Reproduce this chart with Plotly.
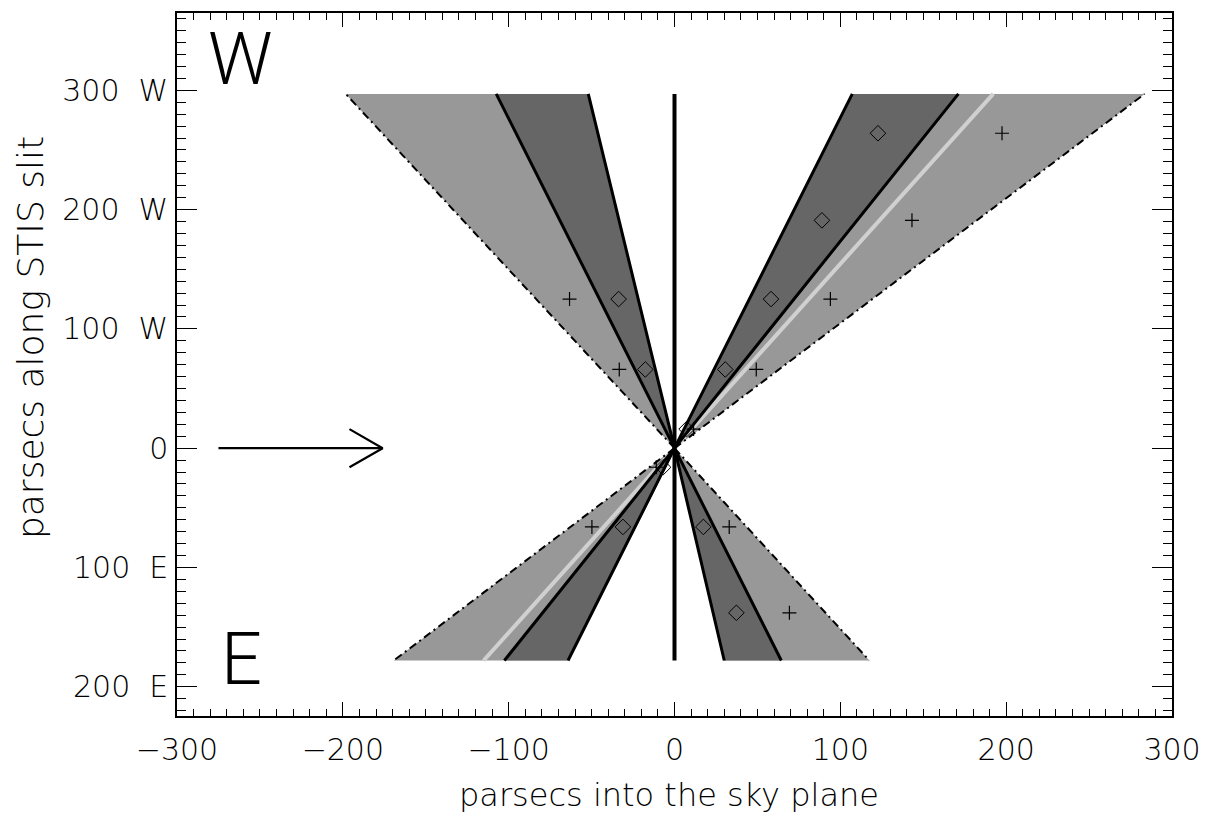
import plotly.graph_objects as go

# ---------------- data ----------------
# cone end heights (pc along slit): W cones end at TOP, E cones at BOTTOM
cone_names = ["W-left", "W-right", "E-left", "E-right"]
cone_end_y = [297, 297, -178, -178]
light_outer_x = [-198.3, 283.5, -169.3, 117.5]
dark_outer_x = [-107.5, 171.2, -102.6, 64.4]
dark_inner_x = [-52.0, 107.2, -64.2, 30.0]

ridge_end_x = [192.2, -115.1]
ridge_end_y = [297, -178]

axis_line_y = [-178, 297]

marker_y = [125, 66, 264, 191, 125, 66, 16, -16, -66, -66, -138]
diamond_x = [-33.7, -17.6, 122.7, 88.9, 58.2, 30.6, 7.3, -6.9, -31.1, 17.4, 37.3]
plus_x = [-63.3, -33.3, 197.5, 143.2, 94.0, 49.3, 11.5, -11.0, -49.8, 33.0, 69.3]

arrow_tail_x = -275
arrow_tip_x = -176
arrow_head_len = 20
arrow_head_half = 16

x_tickvals = [-300, -200, -100, 0, 100, 200, 300]
x_ticktext = ["\u2212300", "\u2212200", "\u2212100", "0", "100", "200", "300"]
y_tickvals = [300, 200, 100, 0, -100, -200]
y_ticktext = ["300\u00a0\u00a0W", "200\u00a0\u00a0W", "100\u00a0\u00a0W", "0",
              "100\u00a0\u00a0E", "200\u00a0\u00a0E"]

LIGHT = "#989898"
DARK = "#666666"
RIDGE = "#d0d0d0"
FONT = "DejaVu Sans"
BIG_FONT = "Roboto"

fig = go.Figure()

# light fills
for ye, xo, xi in zip(cone_end_y, light_outer_x, dark_inner_x):
    fig.add_trace(go.Scatter(x=[0, xo, xi, 0], y=[0, ye, ye, 0], fill="toself",
                             fillcolor=LIGHT, mode="none", hoverinfo="skip"))
# dark fills
for ye, xo, xi in zip(cone_end_y, dark_outer_x, dark_inner_x):
    fig.add_trace(go.Scatter(x=[0, xo, xi, 0], y=[0, ye, ye, 0], fill="toself",
                             fillcolor=DARK, mode="none", hoverinfo="skip"))
# ridge (light line)
fig.add_trace(go.Scatter(x=[ridge_end_x[1], 0, ridge_end_x[0]],
                         y=[ridge_end_y[1], 0, ridge_end_y[0]], mode="lines",
                         line=dict(color=RIDGE, width=4), hoverinfo="skip"))
# black solid edges of dark cones
for ye, xo, xi in zip(cone_end_y, dark_outer_x, dark_inner_x):
    fig.add_trace(go.Scatter(x=[xo, 0, xi], y=[ye, 0, ye], mode="lines",
                             line=dict(color="black", width=3), hoverinfo="skip"))
# dash-dot outer edges
for ye, xo in zip(cone_end_y, light_outer_x):
    fig.add_trace(go.Scatter(x=[0, xo], y=[0, ye], mode="lines",
                             line=dict(color="black", width=2, dash="8px,4px,2px,4px"),
                             hoverinfo="skip"))
# central vertical line
fig.add_trace(go.Scatter(x=[0, 0], y=axis_line_y, mode="lines",
                         line=dict(color="black", width=4), hoverinfo="skip"))
# markers
fig.add_trace(go.Scatter(x=diamond_x, y=marker_y, mode="markers",
                         marker=dict(symbol="diamond-open", size=12, color="black",
                                     line=dict(width=1, color="black"))))
fig.add_trace(go.Scatter(x=plus_x, y=marker_y, mode="markers",
                         marker=dict(symbol="cross-thin", size=10, color="black",
                                     line=dict(width=1.2, color="black"))))
# arrow
fig.add_trace(go.Scatter(x=[arrow_tail_x, arrow_tip_x], y=[0, 0], mode="lines",
                         line=dict(color="black", width=2.2), hoverinfo="skip"))
fig.add_trace(go.Scatter(x=[arrow_tip_x - arrow_head_len, arrow_tip_x, arrow_tip_x - arrow_head_len],
                         y=[arrow_head_half, 0, -arrow_head_half], mode="lines",
                         line=dict(color="black", width=2.2), hoverinfo="skip"))

axis_common = dict(showline=True, linecolor="black", linewidth=1.5, mirror="allticks",
                   ticks="inside", tickcolor="black", showgrid=False, zeroline=False,
                   tickfont=dict(family=FONT, size=30, color="black", weight=200))

fig.update_xaxes(range=[-300, 300], tickvals=x_tickvals, ticktext=x_ticktext,
                 ticklen=14, tickwidth=1.2, ticklabelstandoff=6,
                 minor=dict(ticks="inside", ticklen=7, dtick=10, tickcolor="black", tickwidth=1),
                 **axis_common)
fig.update_yaxes(range=[-224.5, 364.8], tickvals=y_tickvals, ticktext=y_ticktext,
                 ticklen=20, tickwidth=1.2, ticklabelstandoff=1,
                 minor=dict(ticks="inside", ticklen=9, dtick=10, tickcolor="black", tickwidth=1),
                 **axis_common)

annots = [
    dict(text="W", x=-261.8, y=326, xref="x", yref="y", showarrow=False,
         font=dict(family=BIG_FONT, size=72, color="black", weight=300)),
    dict(text="E", x=-261, y=-177.5, xref="x", yref="y", showarrow=False,
         font=dict(family=BIG_FONT, size=72, color="black", weight=300)),
    dict(text="parsecs into the sky plane", x=(668.5 - 177) / 995, y=-(795 - 716) / 705,
         xref="paper", yref="paper", showarrow=False, xanchor="center", yanchor="middle",
         font=dict(family=FONT, size=32, color="black", weight=200)),
    dict(text="parsecs along STIS slit", x=-(177 - 30) / 995, y=(716 - 337) / 705,
         xref="paper", yref="paper", showarrow=False, textangle=-90,
         xanchor="center", yanchor="middle",
         font=dict(family=FONT, size=36, color="black", weight=200)),
]

# page body has an 8px default margin, so margins are offset by 8px
fig.update_layout(width=1211, height=818, showlegend=False,
                  margin=dict(l=169, r=47, t=3, b=110),
                  paper_bgcolor="white", plot_bgcolor="white",
                  annotations=annots)

fig.write_html("out.html")
